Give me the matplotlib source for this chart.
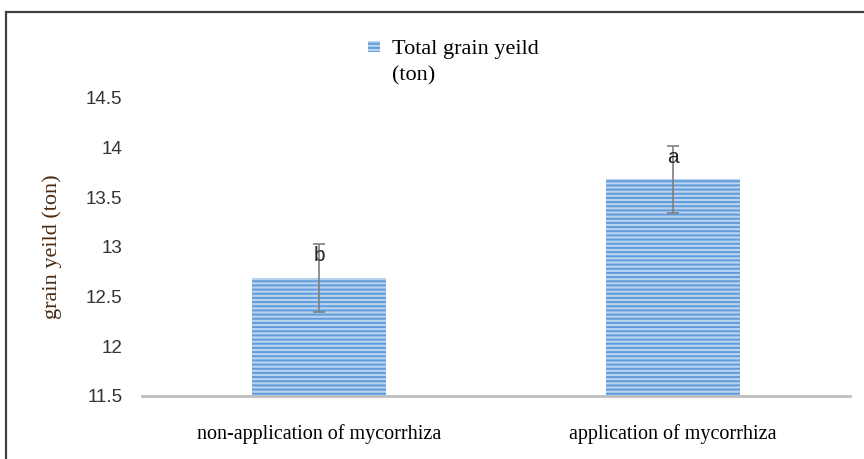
import matplotlib.pyplot as plt
from matplotlib.patches import Rectangle

# data
treatments = ['non-application of mycorrhiza', 'application of mycorrhiza']
grain_yield = [12.69, 13.68]
yield_err = [0.34, 0.34]
letters = ['b', 'a']
y_ticks = [11.5, 12, 12.5, 13, 13.5, 14, 14.5]
y_tick_labels = ['11.5', '12', '12.5', '13', '13.5', '14', '14.5']
legend_label = 'Total grain yeild\n(ton)'

serif = 'Liberation Serif'
sans = 'Liberation Sans'
bar_fill = '#B9D3EF'
bar_line = '#5F9BDB'

plt.rcParams['hatch.linewidth'] = 1.4

fig = plt.figure(figsize=(8.64, 4.59), dpi=100)
ax = fig.add_axes([0.1644, 0.1373, 0.8194, 0.6492])

x = range(len(treatments))
bars = ax.bar(x, grain_yield, width=0.38, color=bar_fill, hatch='----',
              edgecolor=bar_line, linewidth=0)
ax.errorbar(x, grain_yield, yerr=yield_err, fmt='none', ecolor='#7F7F7F',
            elinewidth=1.2, capsize=4.3, capthick=1.2)

# significance letters sitting just under the upper cap
for xi, v, e, t in zip(x, grain_yield, yield_err, letters):
    ax.text(xi, v + e - 0.17, t, ha='center', va='baseline', fontsize=15,
            family=sans, color='#262626')

ax.set_xlim(-0.5, 1.5)
ax.set_ylim(11.5, 14.5)
ax.set_yticks(y_ticks)
ax.set_yticklabels(y_tick_labels, family=sans, fontsize=13.5, color='#333333')
ax.set_xticks(list(x))
ax.set_xticklabels(treatments, family=serif, fontsize=14.5, color='black')
ax.tick_params(axis='both', length=0)
ax.tick_params(axis='y', pad=14)
ax.tick_params(axis='x', pad=20)
for s in ['top', 'right', 'left']:
    ax.spines[s].set_visible(False)
ax.spines['bottom'].set_color('#BFBFBF')
ax.spines['bottom'].set_linewidth(2)

ax.set_ylabel('grain yeild (ton)', family=serif, fontsize=16,
              color='#4a2a10')
ax.yaxis.set_label_coords(-0.113, 0.5)

# legend drawn by hand so the key lines up with the first text line
ax.add_patch(Rectangle((0.319, 1.154), 0.017, 0.037, transform=ax.transAxes,
                       facecolor=bar_fill, edgecolor=bar_line, hatch='----',
                       linewidth=0, clip_on=False))
ax.text(0.353, 1.195, legend_label, transform=ax.transAxes, ha='left',
        va='top', family=serif, fontsize=16, linespacing=1.5)

# outer chart frame
fig.patches.append(Rectangle((6 / 864, -0.05), 1.1, 1 - 12 / 459 + 0.05,
                             transform=fig.transFigure, fill=False,
                             edgecolor='#404040', linewidth=1.6))

fig.savefig('out.png', dpi=100)
